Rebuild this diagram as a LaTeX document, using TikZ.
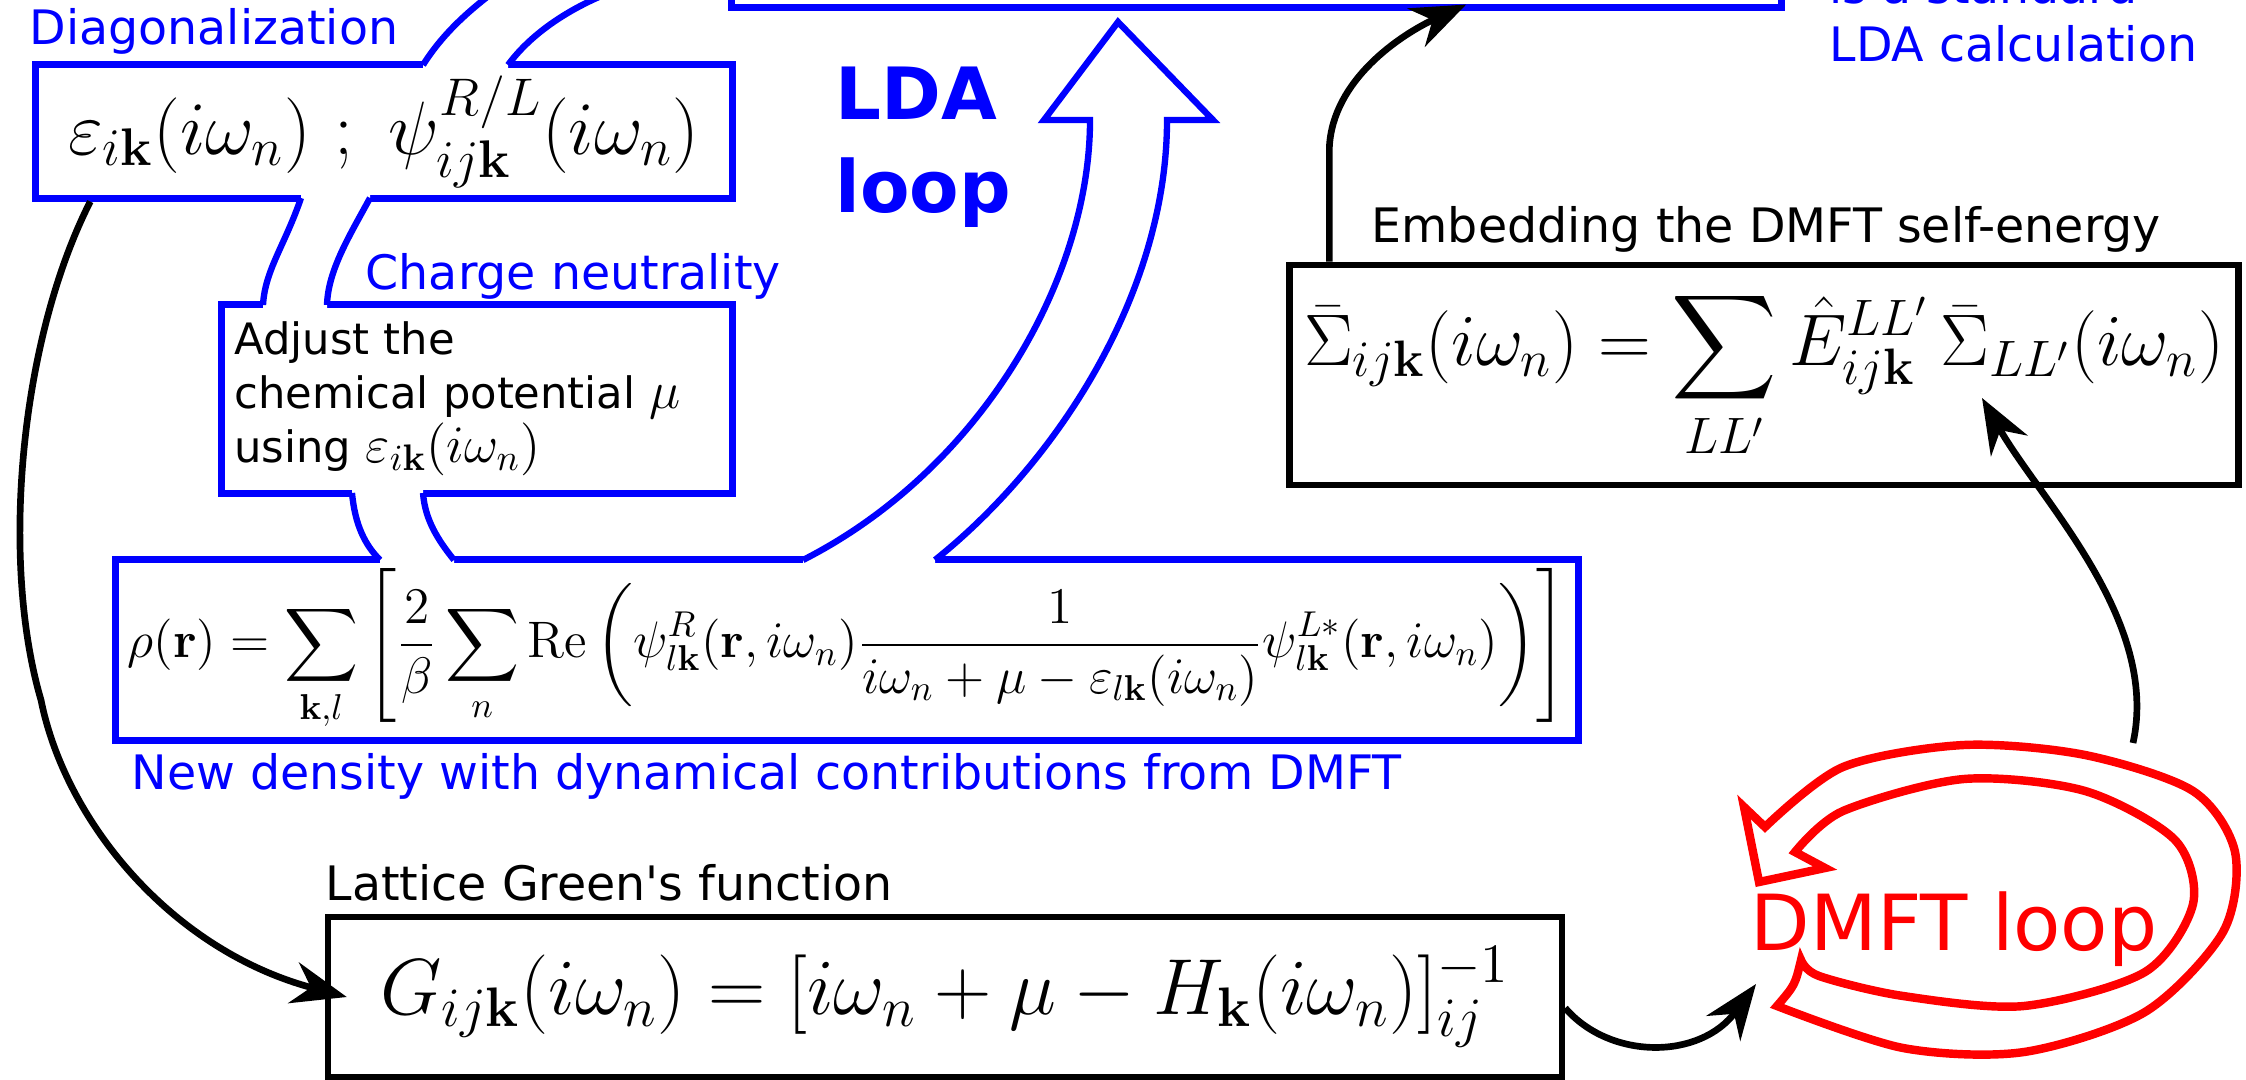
\documentclass[tikz,border=0pt]{standalone}
\usepackage{fix-cm}
\usepackage{amsmath}
\usepackage{amssymb}
\usepackage[no-math]{fontspec}
\newfontfamily\djv{DejaVu Sans}
\usetikzlibrary{arrows.meta,calc}

\begin{document}
\begin{tikzpicture}[x=0.01cm,y=-0.01cm,
    bluebox/.style={draw=blue,line width=2pt,fill=white,inner sep=0pt},
    blackbox/.style={draw=black,line width=1.9pt,fill=white,inner sep=0pt},
    band/.style={draw=blue,line width=1.8pt},
    lbl/.style={font=\djv\fontsize{13.5}{16}\selectfont,inner sep=0pt,anchor=base west},
    flow/.style={line width=1.9pt,-{Stealth[length=0.55cm,width=0.42cm,inset=0.18cm]}}]
    \useasboundingbox (0,0) rectangle (2246,1080);
    \clip (0,0) rectangle (2246,1080);
    % LDA box, cut at the top
    \node (lda) at (1256.5,-60) [bluebox,minimum width=10.49cm,minimum height=1.34cm] {};
    % Boxes
    \node (eps) at (384,131.5) [bluebox,minimum width=6.96cm,minimum height=1.33cm,font=\fontsize{21.5}{21.5}\selectfont]
        {$\varepsilon_{i\mathbf{k}}(i\omega_n)\ ;\ \psi^{R/L}_{ij\mathbf{k}}(i\omega_n)$};
    \node (adj) at (477,399) [bluebox,minimum width=5.1cm,minimum height=1.88cm,text width=4.85cm,align=left,
        font=\djv\fontsize{12.3}{15.4}\selectfont]
        {Adjust the\\chemical potential {\fontsize{15}{15}\selectfont$\mu$}\\using {\fontsize{15}{15}\selectfont$\varepsilon_{i\mathbf{k}}(i\omega_n)$}};
    \node (rho) at (847,650) [bluebox,minimum width=14.62cm,minimum height=1.8cm,font=\fontsize{14.6}{14.6}\selectfont]
        {$\displaystyle \rho(\mathbf{r})=\sum_{\mathbf{k},l}\left[\frac{2}{\beta}\sum_n \mathrm{Re}\left(\psi^R_{l\mathbf{k}}(\mathbf{r},i\omega_n)\frac{1}{i\omega_n+\mu-\varepsilon_{l\mathbf{k}}(i\omega_n)}\psi^{L*}_{l\mathbf{k}}(\mathbf{r},i\omega_n)\right)\right]$};
    \node (sigma) at (1764,375) [blackbox,minimum width=9.48cm,minimum height=2.2cm,font=\fontsize{20.8}{20.8}\selectfont]
        {$\displaystyle\bar{\Sigma}_{ij\mathbf{k}}(i\omega_n)=\sum_{LL'}\hat{E}^{LL'}_{ij\mathbf{k}}\,\bar{\Sigma}_{LL'}(i\omega_n)$};
    \node (green) at (945,997) [blackbox,minimum width=12.33cm,minimum height=1.6cm,font=\fontsize{22.6}{22.6}\selectfont]
        {$G_{ij\mathbf{k}}(i\omega_n)=[i\omega_n+\mu-H_{\mathbf{k}}(i\omega_n)]^{-1}_{ij}$};
    % Bands between the blue boxes
    \fill[white] (423,73) -- (423,65) .. controls (445,30) and (475,5) .. (510,-20) -- (630,-15) .. controls (570,5) and (530,35) .. (508,65) -- (508,73) -- cycle;
    \draw[band] (423,65) .. controls (445,30) and (475,5) .. (510,-20);
    \draw[band] (508,65) .. controls (530,35) and (570,5) .. (630,-15);
    \fill[white] (301,190) -- (301,198) .. controls (285,245) and (265,270) .. (263,305) -- (263,313) -- (327,313) -- (327,305) .. controls (328,270) and (350,235) .. (370,198) -- (370,190) -- cycle;
    \draw[band] (301,198) .. controls (285,245) and (265,270) .. (263,305);
    \draw[band] (370,198) .. controls (350,235) and (328,270) .. (327,305);
    \fill[white] (352,485) -- (352,493) .. controls (355,525) and (365,545) .. (380,560) -- (380,568) -- (454,568) -- (454,560) .. controls (438,540) and (425,520) .. (423,493) -- (423,485) -- cycle;
    \draw[band] (352,493) .. controls (355,525) and (365,545) .. (380,560);
    \draw[band] (423,493) .. controls (425,520) and (438,540) .. (454,560);
    % LDA loop arrow
    \fill[white] (803,568) -- (803,560) .. controls (980,470) and (1090,280) .. (1090,120) -- (1044,120) -- (1118,22) -- (1213,120) -- (1167,120) .. controls (1167,290) and (1060,460) .. (935,560) -- (935,568) -- cycle;
    \draw[band] (803,560) .. controls (980,470) and (1090,280) .. (1090,120) -- (1044,120) -- (1118,22) -- (1213,120) -- (1167,120) .. controls (1167,290) and (1060,460) .. (935,560);
    % DMFT loop arrow
    \draw[red,line width=2.4pt] plot[smooth] coordinates {(1777,1006) (1903,1048) (2024,1052) (2145,1012) (2223,932) (2235,852) (2193,791) (2085,755) (1964,745) (1843,767) (1765,827)}
        -- (1744,807) -- (1759,882) -- (1825,868) -- (1795,852)
        -- plot[smooth] coordinates {(1795,852) (1843,811) (1964,779) (2085,791) (2175,840) (2193,904) (2145,972) (2024,1006) (1903,996) (1819,976) (1801,960)}
        .. controls (1795,985) .. (1777,1006) -- cycle;
    % Labels
    \node (diag) at (29,45) [lbl,blue] {Diagonalization};
    \node (charge) at (365,290) [lbl,blue] {Charge neutrality};
    \node (dens) at (131,790) [lbl,blue] {New density with dynamical contributions from DMFT};
    \node (embed) at (1371,243) [lbl] {Embedding the DMFT self-energy};
    \node (latt) at (325,900) [lbl] {Lattice Green\textquotesingle s function};
    \node (std) at (1829,4) [lbl,blue] {is a standard};
    \node (calc) at (1829,62) [lbl,blue] {LDA calculation};
    \node (ldaA) at (835,120) [lbl,blue,font=\djv\bfseries\fontsize{20.5}{24}\selectfont] {LDA};
    \node (ldaB) at (835,213) [lbl,blue,font=\djv\bfseries\fontsize{20.5}{24}\selectfont] {loop};
    \node (dmft) at (1750,950) [lbl,red,font=\djv\fontsize{22}{26}\selectfont] {DMFT loop};
    % Connectors
    \coordinate (dmftin) at (1756,984);
    \coordinate (dmftout) at (2133,743);
    \coordinate (sigLL) at (1982,398);
    \draw[flow] ($(eps.south west)+(58,0)$) .. controls (20,340) and (0,560) .. (41,700)
        .. controls (65,820) and (170,950) .. ($(green.west)+(22,0)$);
    \draw[flow] ($(green.east)+(0,11)$) .. controls (1610,1060) and (1700,1060) .. (dmftin);
    \draw[flow] (dmftout) .. controls (2160,620) and (2040,500) .. (sigLL);
    \draw[flow] ($(sigma.north west)+(43,0)$) -- ++(0,-115) .. controls (1333,80) and (1400,35) .. ($(lda.south west)+(738,-6)$);
\end{tikzpicture}
\end{document}
